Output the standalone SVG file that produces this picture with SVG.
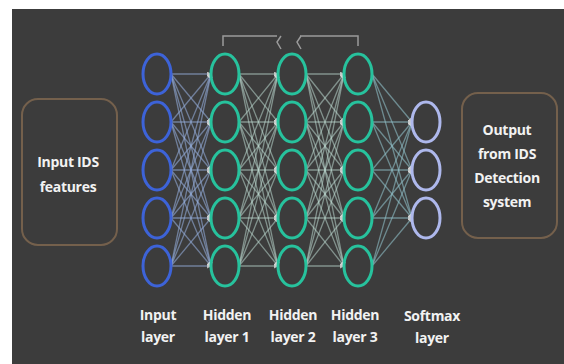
<svg xmlns="http://www.w3.org/2000/svg" width="564" height="364" viewBox="0 0 564 364">
<defs>
<style>
.bg{fill:#3c3c3c}
.box{fill:none;stroke:#74604c;stroke-width:2}
.in{fill:none;stroke:#3d63d8;stroke-width:3}
.hid{fill:none;stroke:#27c29d;stroke-width:3}
.sm{fill:none;stroke:#aeb8ec;stroke-width:3}
.lbl{font-family:"Open Sans","Liberation Sans",sans-serif;font-weight:700;font-size:14px;fill:#f2f2f2;text-anchor:middle;letter-spacing:-0.3px}
.c1 line{stroke:#93acd8;stroke-opacity:0.6;stroke-width:1.3}
.c2 line{stroke:#bcd8d0;stroke-opacity:0.55;stroke-width:1.3}
.c3 line{stroke:#8fc0c8;stroke-opacity:0.6;stroke-width:1.3}
.br{fill:none;stroke:#9a9a9a;stroke-width:1.5}
</style>
<marker id="ah" markerWidth="5" markerHeight="5" refX="4" refY="2.5" orient="auto" markerUnits="userSpaceOnUse">
<path d="M0,0 L5,2.5 L0,5 z" fill="#d8d8d8" fill-opacity="0.8"/>
</marker>
</defs>
<rect x="0" y="0" width="564" height="364" fill="#ffffff"/>
<rect class="bg" x="12" y="9" width="552" height="355"/>

<g id="connectors" marker-end="url(#ah)">
<g class="c1">
<line x1="171" y1="74" x2="211" y2="74"/><line x1="171" y1="74" x2="211" y2="122"/><line x1="171" y1="74" x2="211" y2="170"/><line x1="171" y1="74" x2="211" y2="218"/><line x1="171" y1="74" x2="211" y2="266"/>
<line x1="171" y1="122" x2="211" y2="74"/><line x1="171" y1="122" x2="211" y2="122"/><line x1="171" y1="122" x2="211" y2="170"/><line x1="171" y1="122" x2="211" y2="218"/><line x1="171" y1="122" x2="211" y2="266"/>
<line x1="171" y1="170" x2="211" y2="74"/><line x1="171" y1="170" x2="211" y2="122"/><line x1="171" y1="170" x2="211" y2="170"/><line x1="171" y1="170" x2="211" y2="218"/><line x1="171" y1="170" x2="211" y2="266"/>
<line x1="171" y1="218" x2="211" y2="74"/><line x1="171" y1="218" x2="211" y2="122"/><line x1="171" y1="218" x2="211" y2="170"/><line x1="171" y1="218" x2="211" y2="218"/><line x1="171" y1="218" x2="211" y2="266"/>
<line x1="171" y1="266" x2="211" y2="74"/><line x1="171" y1="266" x2="211" y2="122"/><line x1="171" y1="266" x2="211" y2="170"/><line x1="171" y1="266" x2="211" y2="218"/><line x1="171" y1="266" x2="211" y2="266"/>
</g>
<g class="c2">
<line x1="239" y1="74" x2="278" y2="74"/><line x1="239" y1="74" x2="278" y2="122"/><line x1="239" y1="74" x2="278" y2="170"/><line x1="239" y1="74" x2="278" y2="218"/><line x1="239" y1="74" x2="278" y2="266"/>
<line x1="239" y1="122" x2="278" y2="74"/><line x1="239" y1="122" x2="278" y2="122"/><line x1="239" y1="122" x2="278" y2="170"/><line x1="239" y1="122" x2="278" y2="218"/><line x1="239" y1="122" x2="278" y2="266"/>
<line x1="239" y1="170" x2="278" y2="74"/><line x1="239" y1="170" x2="278" y2="122"/><line x1="239" y1="170" x2="278" y2="170"/><line x1="239" y1="170" x2="278" y2="218"/><line x1="239" y1="170" x2="278" y2="266"/>
<line x1="239" y1="218" x2="278" y2="74"/><line x1="239" y1="218" x2="278" y2="122"/><line x1="239" y1="218" x2="278" y2="170"/><line x1="239" y1="218" x2="278" y2="218"/><line x1="239" y1="218" x2="278" y2="266"/>
<line x1="239" y1="266" x2="278" y2="74"/><line x1="239" y1="266" x2="278" y2="122"/><line x1="239" y1="266" x2="278" y2="170"/><line x1="239" y1="266" x2="278" y2="218"/><line x1="239" y1="266" x2="278" y2="266"/>
<line x1="306" y1="74" x2="344" y2="74"/><line x1="306" y1="74" x2="344" y2="122"/><line x1="306" y1="74" x2="344" y2="170"/><line x1="306" y1="74" x2="344" y2="218"/><line x1="306" y1="74" x2="344" y2="266"/>
<line x1="306" y1="122" x2="344" y2="74"/><line x1="306" y1="122" x2="344" y2="122"/><line x1="306" y1="122" x2="344" y2="170"/><line x1="306" y1="122" x2="344" y2="218"/><line x1="306" y1="122" x2="344" y2="266"/>
<line x1="306" y1="170" x2="344" y2="74"/><line x1="306" y1="170" x2="344" y2="122"/><line x1="306" y1="170" x2="344" y2="170"/><line x1="306" y1="170" x2="344" y2="218"/><line x1="306" y1="170" x2="344" y2="266"/>
<line x1="306" y1="218" x2="344" y2="74"/><line x1="306" y1="218" x2="344" y2="122"/><line x1="306" y1="218" x2="344" y2="170"/><line x1="306" y1="218" x2="344" y2="218"/><line x1="306" y1="218" x2="344" y2="266"/>
<line x1="306" y1="266" x2="344" y2="74"/><line x1="306" y1="266" x2="344" y2="122"/><line x1="306" y1="266" x2="344" y2="170"/><line x1="306" y1="266" x2="344" y2="218"/><line x1="306" y1="266" x2="344" y2="266"/>
</g>
<g class="c3">
<line x1="372" y1="74" x2="412" y2="122"/><line x1="372" y1="74" x2="412" y2="170"/><line x1="372" y1="74" x2="412" y2="218"/>
<line x1="372" y1="122" x2="412" y2="122"/><line x1="372" y1="122" x2="412" y2="170"/><line x1="372" y1="122" x2="412" y2="218"/>
<line x1="372" y1="170" x2="412" y2="122"/><line x1="372" y1="170" x2="412" y2="170"/><line x1="372" y1="170" x2="412" y2="218"/>
<line x1="372" y1="218" x2="412" y2="122"/><line x1="372" y1="218" x2="412" y2="170"/><line x1="372" y1="218" x2="412" y2="218"/>
<line x1="372" y1="266" x2="412" y2="122"/><line x1="372" y1="266" x2="412" y2="170"/><line x1="372" y1="266" x2="412" y2="218"/>
</g>
</g>

<g id="bracket">
<path class="br" d="M223,46 V36 H277 M300,36 H358 V46"/>
<path class="br" d="M281,36 L277,42 L281,49 M301,36 L297,42 L301,49"/>
</g>

<g id="input-box">
<rect class="box" x="22" y="99" width="95" height="146" rx="16"/>
<text class="lbl" x="68" y="167" font-size="14.5">Input IDS</text>
<text class="lbl" x="68" y="192" font-size="14.5">features</text>
</g>

<g id="input-layer">
<ellipse class="in" cx="157" cy="74" rx="14" ry="20"/>
<ellipse class="in" cx="157" cy="122" rx="14" ry="20"/>
<ellipse class="in" cx="157" cy="170" rx="14" ry="20"/>
<ellipse class="in" cx="157" cy="218" rx="14" ry="20"/>
<ellipse class="in" cx="157" cy="266" rx="14" ry="20"/>
<text class="lbl" x="158" y="320">Input</text>
<text class="lbl" x="158" y="342">layer</text>
</g>

<g id="hidden-layer-1">
<ellipse class="hid" cx="225" cy="74" rx="14" ry="20"/>
<ellipse class="hid" cx="225" cy="122" rx="14" ry="20"/>
<ellipse class="hid" cx="225" cy="170" rx="14" ry="20"/>
<ellipse class="hid" cx="225" cy="218" rx="14" ry="20"/>
<ellipse class="hid" cx="225" cy="266" rx="14" ry="20"/>
<text class="lbl" x="227" y="320">Hidden</text>
<text class="lbl" x="227" y="342">layer 1</text>
</g>

<g id="hidden-layer-2">
<ellipse class="hid" cx="292" cy="74" rx="14" ry="20"/>
<ellipse class="hid" cx="292" cy="122" rx="14" ry="20"/>
<ellipse class="hid" cx="292" cy="170" rx="14" ry="20"/>
<ellipse class="hid" cx="292" cy="218" rx="14" ry="20"/>
<ellipse class="hid" cx="292" cy="266" rx="14" ry="20"/>
<text class="lbl" x="293" y="320">Hidden</text>
<text class="lbl" x="293" y="342">layer 2</text>
</g>

<g id="hidden-layer-3">
<ellipse class="hid" cx="358" cy="74" rx="14" ry="20"/>
<ellipse class="hid" cx="358" cy="122" rx="14" ry="20"/>
<ellipse class="hid" cx="358" cy="170" rx="14" ry="20"/>
<ellipse class="hid" cx="358" cy="218" rx="14" ry="20"/>
<ellipse class="hid" cx="358" cy="266" rx="14" ry="20"/>
<text class="lbl" x="355" y="320">Hidden</text>
<text class="lbl" x="355" y="342">layer 3</text>
</g>

<g id="softmax-layer">
<ellipse class="sm" cx="426" cy="122" rx="14" ry="20"/>
<ellipse class="sm" cx="426" cy="170" rx="14" ry="20"/>
<ellipse class="sm" cx="426" cy="218" rx="14" ry="20"/>
<text class="lbl" x="432" y="321">Softmax</text>
<text class="lbl" x="432" y="343">layer</text>
</g>

<g id="output-box">
<rect class="box" x="462" y="93" width="95" height="145" rx="16"/>
<text class="lbl" x="507" y="135" font-size="14.5">Output</text>
<text class="lbl" x="507" y="159" font-size="14.5">from IDS</text>
<text class="lbl" x="507" y="183" font-size="14.5">Detection</text>
<text class="lbl" x="507" y="207" font-size="14.5">system</text>
</g>
</svg>
